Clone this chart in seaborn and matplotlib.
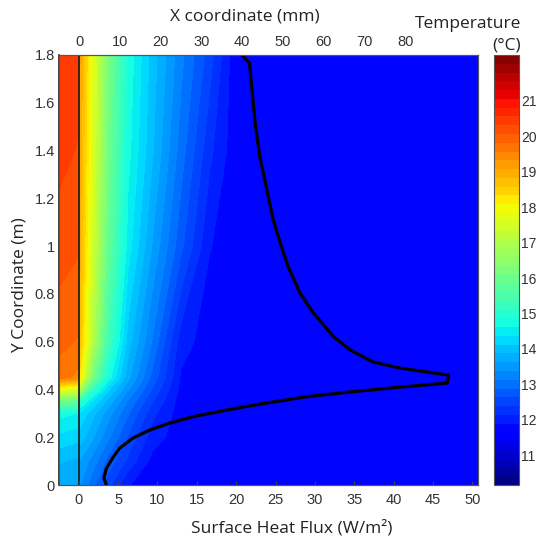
import numpy as np
import seaborn as sns
import matplotlib.pyplot as plt
from matplotlib import font_manager
from matplotlib.ticker import FuncFormatter

# temperature field (deg C), rows = y, cols = x
x_mm = [-5, -0.2, 0.2, 3, 7, 12, 18, 25, 32, 38, 50, 98]
y_m = [0, 0.1, 0.2, 0.3, 0.35, 0.4, 0.45, 0.6, 1.0, 1.4, 1.8]
temp = [
    [13.7, 13.6, 13.4, 13.0, 12.5, 11.9, 11.75, 11.75, 11.75, 11.75, 11.75, 11.75],
    [13.9, 13.8, 13.6, 13.3, 12.8, 12.3, 11.8, 11.75, 11.75, 11.75, 11.75, 11.75],
    [14.3, 14.2, 14.0, 13.7, 13.2, 12.6, 12.0, 11.75, 11.75, 11.75, 11.75, 11.75],
    [14.7, 14.6, 14.3, 14.0, 13.5, 12.9, 12.2, 11.75, 11.75, 11.75, 11.75, 11.75],
    [16.0, 15.8, 15.0, 14.4, 13.8, 13.1, 12.4, 11.75, 11.75, 11.75, 11.75, 11.75],
    [17.8, 17.5, 16.8, 15.2, 14.2, 13.4, 12.6, 11.8, 11.75, 11.75, 11.75, 11.75],
    [19.7, 19.5, 18.2, 16.3, 14.8, 13.7, 12.8, 11.85, 11.75, 11.75, 11.75, 11.75],
    [19.9, 19.8, 18.7, 17.2, 15.4, 14.0, 13.1, 12.0, 11.75, 11.75, 11.75, 11.75],
    [20.2, 20.1, 18.9, 17.6, 15.9, 14.5, 13.6, 12.7, 11.9, 11.75, 11.75, 11.75],
    [20.4, 20.3, 19.0, 17.8, 16.1, 14.7, 13.9, 13.0, 12.2, 11.75, 11.75, 11.75],
    [20.5, 20.4, 19.1, 17.9, 16.2, 14.8, 14.0, 13.2, 12.5, 11.75, 11.75, 11.75],
]

# surface heat flux along the wall
flux = [3.5, 3.2, 3.5, 4.4, 5.2, 6.9, 9.0, 11.6, 14.5, 18.8, 23.0, 29.0, 34.5,
        40.8, 46.8, 47.0, 40.8, 37.4, 34.5, 32.4, 29.8, 28.1, 26.6, 25.6, 24.7,
        23.9, 23.0, 22.4, 21.8, 21.7, 20.7]
flux_y = [0.0, 0.03, 0.07, 0.118, 0.155, 0.197, 0.23, 0.26, 0.286, 0.314, 0.339,
          0.37, 0.39, 0.41, 0.427, 0.46, 0.49, 0.515, 0.565, 0.62, 0.72, 0.804,
          0.913, 1.013, 1.109, 1.235, 1.374, 1.515, 1.725, 1.765, 1.8]

sns.set_style('white')
try:
    font_manager.findfont('Liberation Sans Narrow', fallback_to_default=False)
    tick_font = 'Liberation Sans Narrow'
    tick_size, cb_size = 11, 11
except ValueError:
    tick_font = 'Liberation Sans'
    tick_size, cb_size = 10.5, 10
plt.rcParams['font.family'] = [tick_font, 'DejaVu Sans']
label_font = 'Open Sans'

fig = plt.figure(figsize=(5.37, 5.39), dpi=100)
ax = fig.add_axes([0.110, 0.100, 0.780, 0.798])
ax2 = ax.twiny()

levels = np.linspace(10.15, 22.3, 50)
cf = ax.contourf(x_mm, y_m, temp, levels=levels, cmap='jet')
ax.axvline(0, color='#222222', lw=1.3)
ax.set_xlim(-4.9, 97.8)
ax.set_ylim(0, 1.8)

# top axis = x coordinate, bottom axis = heat flux
ax.xaxis.tick_top()
ax2.xaxis.tick_bottom()
ax2.xaxis.set_label_position('bottom')

sns.lineplot(x=flux, y=flux_y, sort=False, estimator=None, color='black',
             lw=2.3, ax=ax2)
ax2.set_xlim(-2.5, 50.7)
ax2.set_ylim(0, 1.8)
ax2.set_xlabel('')
ax2.set_ylabel('')

ax.set_xticks(range(0, 90, 10))
ax2.set_xticks(range(0, 55, 5))
ax.set_yticks(np.arange(0, 1.81, 0.2))
ax.yaxis.set_major_formatter(FuncFormatter(lambda v, p: f'{v:g}'))

for a in (ax, ax2):
    a.tick_params(direction='in', length=3, width=0.8, color='#444444',
                  labelsize=tick_size, labelcolor='#333333')
    for s in a.spines.values():
        s.set_color('#555555')
        s.set_linewidth(0.8)
ax.tick_params(axis='x', pad=4)
ax.tick_params(axis='y', pad=3)
ax2.tick_params(axis='x', pad=6)
ax.spines['left'].set_color('#222222')
ax.spines['left'].set_linewidth(1.2)

# colorbar
cax = fig.add_axes([0.920, 0.100, 0.046, 0.798])
cb = fig.colorbar(cf, cax=cax, ticks=range(11, 22))
cb.outline.set_edgecolor('#555555')
cb.outline.set_linewidth(0.8)
cax.tick_params(direction='in', length=3, width=0.8, color='#444444',
                labelsize=cb_size, labelcolor='#333333', pad=1.5)

fig.text(0.456, 0.970, 'X coordinate (mm)', ha='center', va='center',
         fontsize=12.5, family=label_font, color='#222222')
fig.text(0.544, 0.020, 'Surface Heat Flux (W/m²)', ha='center', va='center',
         fontsize=12.5, family=label_font, color='#222222')
fig.text(0.037, 0.471, 'Y Coordinate (m)', ha='center', va='center',
         rotation=90, fontsize=12.5, family=label_font, color='#222222')
fig.text(0.970, 0.935, 'Temperature\n(°C)', ha='right', va='center',
         multialignment='right', fontsize=12.5, family=label_font,
         color='#222222', linespacing=1.45)

fig.savefig('out.png', dpi=100)
